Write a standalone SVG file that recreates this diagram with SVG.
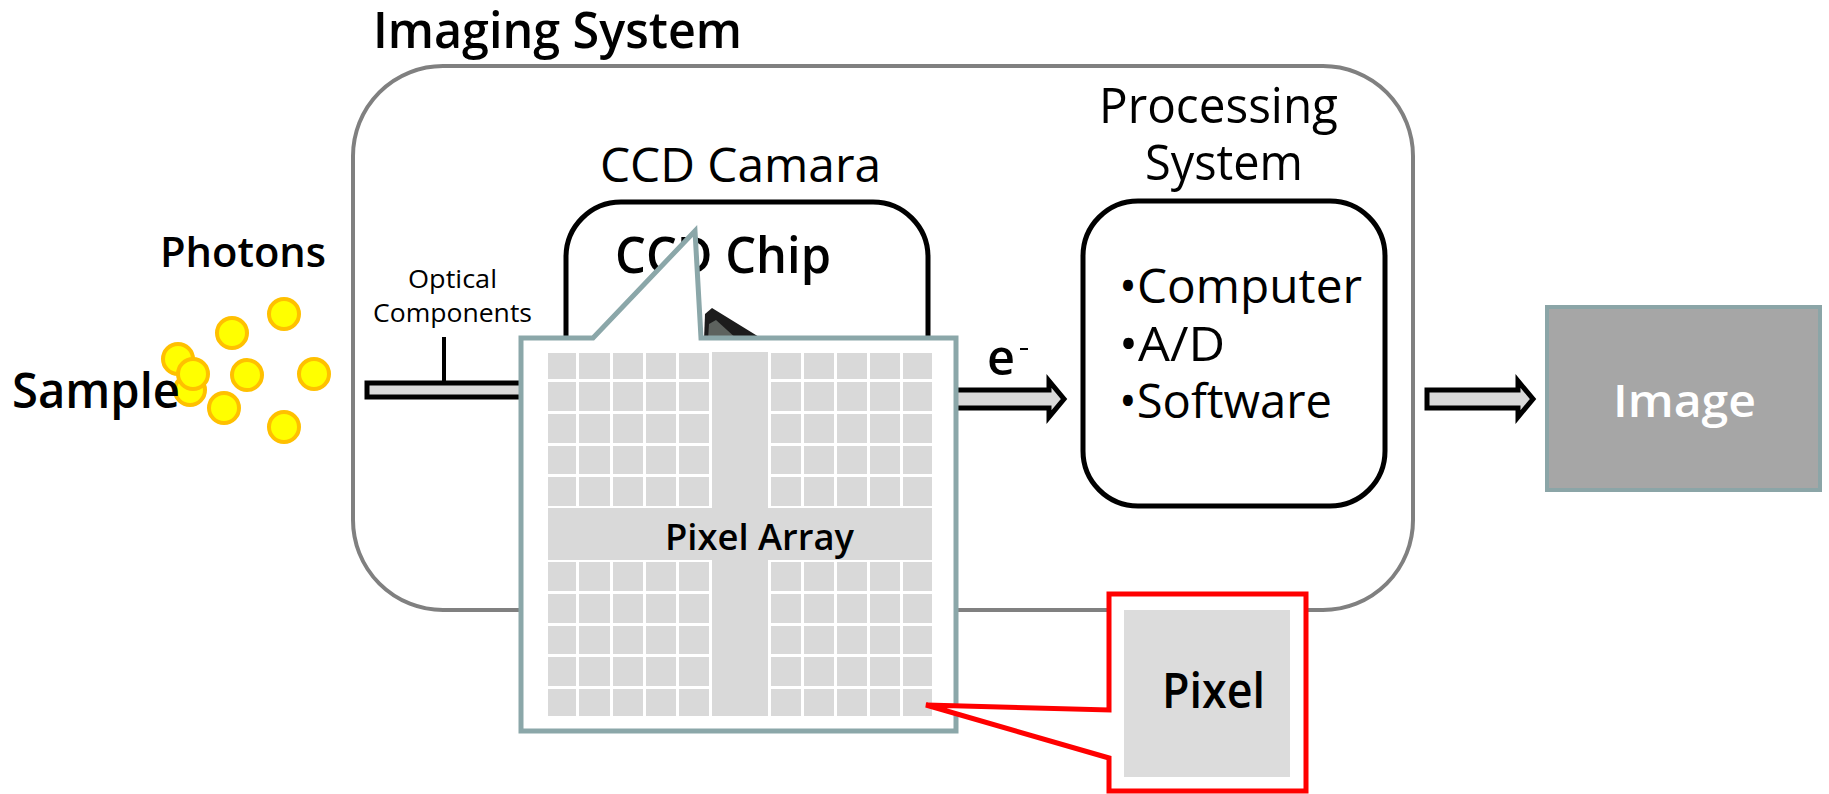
<svg xmlns="http://www.w3.org/2000/svg" width="1829" height="794" viewBox="0 0 1829 794">
<style>
text { font-family: "Open Sans", "Noto Sans", "DejaVu Sans", sans-serif; fill: #000; }
.sb { font-weight: 600; }
.rg { font-weight: 400; }
.box { fill: #fff; stroke: #000; stroke-width: 5; }
.arrow { fill: #D9D9D9; stroke: #000; stroke-width: 5; stroke-linejoin: miter; }
.photon { fill: #FFFF00; stroke: #FFC000; stroke-width: 4; }
.cell { fill: #D9D9D9; }
</style>
<rect width="1829" height="794" fill="#fff"/>

<g id="imaging-system">
  <rect x="353" y="66" width="1060" height="544" rx="90" ry="90" fill="#fff" stroke="#808080" stroke-width="4"/>
  <text class="sb" x="373" y="48" font-size="50" textLength="369" lengthAdjust="spacingAndGlyphs">Imaging System</text>
</g>

<g id="connectors">
  <rect x="367" y="383" width="160" height="14" class="arrow" stroke-width="4"/>
  <line x1="444" y1="337" x2="444" y2="383" stroke="#000" stroke-width="4"/>
  <polygon class="arrow" points="940,390 1049,390 1049,381 1064,399 1049,417 1049,408 940,408"/>
  <polygon class="arrow" points="1427,390 1518,390 1518,381 1533,399 1518,417 1518,408 1427,408"/>
  <text class="sb" x="987" y="375" font-size="48" textLength="28" lengthAdjust="spacingAndGlyphs">e</text>
  <line x1="1020" y1="349" x2="1028" y2="349" stroke="#000" stroke-width="2"/>
</g>

<g id="optical-components">
  <text class="rg" x="408" y="288" font-size="25" textLength="89" lengthAdjust="spacingAndGlyphs">Optical</text>
  <text class="rg" x="373" y="322" font-size="25" textLength="159" lengthAdjust="spacingAndGlyphs">Components</text>
</g>

<g id="photons">
  <circle class="photon" cx="178" cy="359" r="15"/>
  <circle class="photon" cx="190" cy="390" r="15"/>
  <circle class="photon" cx="193" cy="374" r="15"/>
  <circle class="photon" cx="284" cy="314" r="15"/>
  <circle class="photon" cx="232" cy="333" r="15"/>
  <circle class="photon" cx="247" cy="375" r="15"/>
  <circle class="photon" cx="314" cy="374" r="15"/>
  <circle class="photon" cx="224" cy="408" r="15"/>
  <circle class="photon" cx="284" cy="427" r="15"/>
  <text class="sb" x="160" y="267" font-size="42" textLength="166" lengthAdjust="spacingAndGlyphs">Photons</text>
</g>

<g id="sample">
  <text class="sb" x="12" y="408" font-size="48" textLength="168" lengthAdjust="spacingAndGlyphs">Sample</text>
</g>

<g id="ccd-camera">
  <text class="rg" x="600" y="182" font-size="48" textLength="281" lengthAdjust="spacingAndGlyphs">CCD Camara</text>
  <rect class="box" x="566" y="202" width="362" height="420" rx="55" ry="55"/>
</g>

<g id="ccd-chip">
  <text class="sb" x="615" y="273" font-size="50" textLength="216" lengthAdjust="spacingAndGlyphs">CCD Chip</text>
  <polygon points="704,340 705,314 712,308 764,340" fill="#1c1c1c"/>
  <polygon points="708,340 709,324 716,320 738,340" fill="#5d625e"/>
</g>

<g id="processing-system">
  <text class="rg" x="1099" y="123" font-size="50" textLength="239" lengthAdjust="spacingAndGlyphs">Processing</text>
  <text class="rg" x="1145" y="180" font-size="50" textLength="158" lengthAdjust="spacingAndGlyphs">System</text>
  <rect class="box" x="1083" y="201" width="302" height="305" rx="55" ry="55"/>
  <text class="rg" x="1119" y="303" font-size="48" textLength="243" lengthAdjust="spacingAndGlyphs">•Computer</text>
  <text class="rg" x="1119" y="361" font-size="48" textLength="106" lengthAdjust="spacingAndGlyphs">•A/D</text>
  <text class="rg" x="1119" y="418" font-size="48" textLength="213" lengthAdjust="spacingAndGlyphs">•Software</text>
</g>

<g id="image">
  <rect x="1547" y="307" width="273" height="183" fill="#A6A6A6" stroke="#8BA5A7" stroke-width="4"/>
  <text class="sb" x="1613" y="417" font-size="46" textLength="143" lengthAdjust="spacingAndGlyphs" style="fill:#fff">Image</text>
</g>

<g id="pixel-array">
  <polygon points="521,338 593,338 695,231 701,338 956,338 956,731 521,731" fill="#fff" stroke="#8BA7A9" stroke-width="5" stroke-linejoin="miter"/>
  <g class="cell">
    <rect x="712" y="352" width="56" height="364"/>
    <rect x="548" y="508" width="384" height="52"/>
  </g>
  <g id="cells-top-left" class="cell">
    <rect x="548" y="353" width="28" height="26"/><rect x="579" y="353" width="31" height="26"/><rect x="613" y="353" width="30" height="26"/><rect x="646" y="353" width="30" height="26"/><rect x="679" y="353" width="30" height="26"/>
    <rect x="548" y="382" width="28" height="29"/><rect x="579" y="382" width="31" height="29"/><rect x="613" y="382" width="30" height="29"/><rect x="646" y="382" width="30" height="29"/><rect x="679" y="382" width="30" height="29"/>
    <rect x="548" y="414" width="28" height="29"/><rect x="579" y="414" width="31" height="29"/><rect x="613" y="414" width="30" height="29"/><rect x="646" y="414" width="30" height="29"/><rect x="679" y="414" width="30" height="29"/>
    <rect x="548" y="446" width="28" height="28"/><rect x="579" y="446" width="31" height="28"/><rect x="613" y="446" width="30" height="28"/><rect x="646" y="446" width="30" height="28"/><rect x="679" y="446" width="30" height="28"/>
    <rect x="548" y="477" width="28" height="29"/><rect x="579" y="477" width="31" height="29"/><rect x="613" y="477" width="30" height="29"/><rect x="646" y="477" width="30" height="29"/><rect x="679" y="477" width="30" height="29"/>
  </g>
  <g id="cells-top-right" class="cell">
    <rect x="771" y="353" width="30" height="26"/><rect x="804" y="353" width="30" height="26"/><rect x="837" y="353" width="30" height="26"/><rect x="870" y="353" width="30" height="26"/><rect x="903" y="353" width="29" height="26"/>
    <rect x="771" y="382" width="30" height="29"/><rect x="804" y="382" width="30" height="29"/><rect x="837" y="382" width="30" height="29"/><rect x="870" y="382" width="30" height="29"/><rect x="903" y="382" width="29" height="29"/>
    <rect x="771" y="414" width="30" height="29"/><rect x="804" y="414" width="30" height="29"/><rect x="837" y="414" width="30" height="29"/><rect x="870" y="414" width="30" height="29"/><rect x="903" y="414" width="29" height="29"/>
    <rect x="771" y="446" width="30" height="28"/><rect x="804" y="446" width="30" height="28"/><rect x="837" y="446" width="30" height="28"/><rect x="870" y="446" width="30" height="28"/><rect x="903" y="446" width="29" height="28"/>
    <rect x="771" y="477" width="30" height="29"/><rect x="804" y="477" width="30" height="29"/><rect x="837" y="477" width="30" height="29"/><rect x="870" y="477" width="30" height="29"/><rect x="903" y="477" width="29" height="29"/>
  </g>
  <g id="cells-bottom-left" class="cell">
    <rect x="548" y="562" width="28" height="29"/><rect x="579" y="562" width="31" height="29"/><rect x="613" y="562" width="30" height="29"/><rect x="646" y="562" width="30" height="29"/><rect x="679" y="562" width="30" height="29"/>
    <rect x="548" y="594" width="28" height="29"/><rect x="579" y="594" width="31" height="29"/><rect x="613" y="594" width="30" height="29"/><rect x="646" y="594" width="30" height="29"/><rect x="679" y="594" width="30" height="29"/>
    <rect x="548" y="626" width="28" height="28"/><rect x="579" y="626" width="31" height="28"/><rect x="613" y="626" width="30" height="28"/><rect x="646" y="626" width="30" height="28"/><rect x="679" y="626" width="30" height="28"/>
    <rect x="548" y="657" width="28" height="29"/><rect x="579" y="657" width="31" height="29"/><rect x="613" y="657" width="30" height="29"/><rect x="646" y="657" width="30" height="29"/><rect x="679" y="657" width="30" height="29"/>
    <rect x="548" y="689" width="28" height="27"/><rect x="579" y="689" width="31" height="27"/><rect x="613" y="689" width="30" height="27"/><rect x="646" y="689" width="30" height="27"/><rect x="679" y="689" width="30" height="27"/>
  </g>
  <g id="cells-bottom-right" class="cell">
    <rect x="771" y="562" width="30" height="29"/><rect x="804" y="562" width="30" height="29"/><rect x="837" y="562" width="30" height="29"/><rect x="870" y="562" width="30" height="29"/><rect x="903" y="562" width="29" height="29"/>
    <rect x="771" y="594" width="30" height="29"/><rect x="804" y="594" width="30" height="29"/><rect x="837" y="594" width="30" height="29"/><rect x="870" y="594" width="30" height="29"/><rect x="903" y="594" width="29" height="29"/>
    <rect x="771" y="626" width="30" height="28"/><rect x="804" y="626" width="30" height="28"/><rect x="837" y="626" width="30" height="28"/><rect x="870" y="626" width="30" height="28"/><rect x="903" y="626" width="29" height="28"/>
    <rect x="771" y="657" width="30" height="29"/><rect x="804" y="657" width="30" height="29"/><rect x="837" y="657" width="30" height="29"/><rect x="870" y="657" width="30" height="29"/><rect x="903" y="657" width="29" height="29"/>
    <rect x="771" y="689" width="30" height="27"/><rect x="804" y="689" width="30" height="27"/><rect x="837" y="689" width="30" height="27"/><rect x="870" y="689" width="30" height="27"/><rect x="903" y="689" width="29" height="27"/>
  </g>
  <text class="sb" x="665" y="550" font-size="36" textLength="189" lengthAdjust="spacingAndGlyphs">Pixel Array</text>
</g>

<g id="pixel">
  <polygon points="1109,594 1306,594 1306,791 1109,791 1109,758 926,705 1109,710" fill="#fff" stroke="#FF0000" stroke-width="5" stroke-linejoin="miter"/>
  <rect x="1124" y="610" width="166" height="167" fill="#DCDCDC"/>
  <text class="sb" x="1162" y="708" font-size="48" textLength="103" lengthAdjust="spacingAndGlyphs">Pixel</text>
</g>
</svg>
